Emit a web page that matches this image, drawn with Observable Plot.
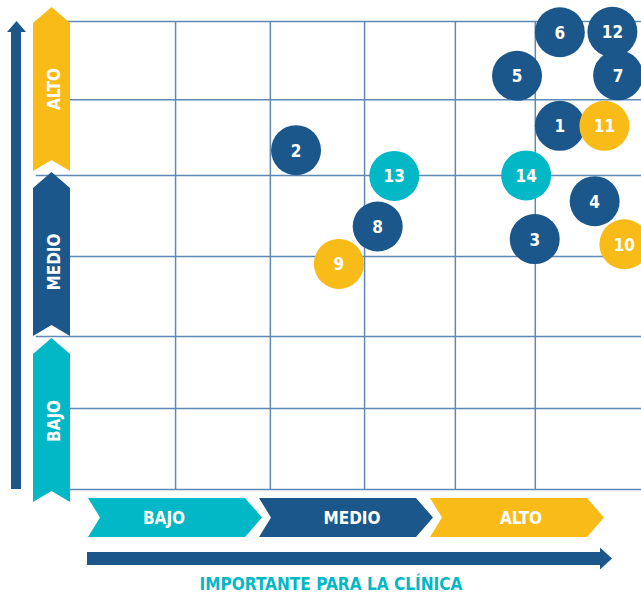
<!DOCTYPE html>
<html>
<head>
<meta charset="utf-8">
<script src="https://cdn.jsdelivr.net/npm/d3@7"></script>
<script src="https://cdn.jsdelivr.net/npm/@observablehq/plot@0.6"></script>
<style>
  html, body { margin: 0; padding: 0; background: #ffffff; }
  #chart svg { display: block; }
</style>
</head>
<body>
<div id="chart"></div>
<script>
// ---- data ----
const levels = ["BAJO", "MEDIO", "ALTO"];
const ids = [1, 2, 3, 4, 5, 6, 7, 8, 9, 10, 11, 12, 13, 14];
// x: importancia para la clínica (0-100), y: eje vertical (0-100)
const xVals = [85.7, 39.5, 81.3, 91.8, 78.2, 85.7, 95.9, 53.8, 47.0, 97.0, 93.5, 94.9, 56.7, 79.8];
const yVals = [77.7, 72.5, 53.5, 61.6, 88.4, 97.7, 88.5, 56.2, 48.2, 52.4, 77.7, 97.8, 67.0, 67.1];
const groups = ["MEDIO", "MEDIO", "MEDIO", "MEDIO", "MEDIO", "MEDIO", "MEDIO", "MEDIO", "ALTO", "ALTO", "ALTO", "MEDIO", "BAJO", "BAJO"];
const xGrid = [18.4, 35.0, 51.5, 67.4, 81.4];
const yGrid = [0, 17.3, 32.7, 49.8, 67.1, 83.3, 100];
const xAxisTitle = "IMPORTANTE PARA LA CLÍNICA";

// ---- styles ----
const levelColors = ["#02b7c6", "#1c578c", "#f8bb17"];
const gridColor = "#5f89b5";
const font = "'DejaVu Sans Condensed', 'DejaVu Sans', sans-serif";

const items = ids.map((id, i) => ({id, x: xVals[i], y: yVals[i], level: groups[i]}));
// draw 12 beneath 7 as in the reference
const order = [1, 2, 3, 4, 5, 6, 12, 7, 8, 9, 10, 11, 13, 14];
const drawItems = order.map(id => items.find(d => d.id === id));

const chart = Plot.plot({
  width: 641,
  height: 597,
  marginLeft: 70,
  marginRight: 0,
  marginTop: 21,
  marginBottom: 108,
  x: {domain: [0, 100], axis: null},
  y: {domain: [0, 100], axis: null},
  color: {domain: levels, range: levelColors},
  style: {fontFamily: font, fontStretch: "condensed", background: "white", overflow: "visible"},
  marks: [
    Plot.ruleY(yGrid, {y: d => d, x1: -6, x2: 100, stroke: gridColor, strokeWidth: 1.5}),
    Plot.ruleX(xGrid, {x: d => d, y1: 0, y2: 100, stroke: gridColor, strokeWidth: 1.5}),
    Plot.dot(drawItems, {x: "x", y: "y", r: 25, fill: "level", stroke: "none"}),
    Plot.text(drawItems, {x: "x", y: "y", text: d => String(d.id), fill: "white",
      fontSize: 17, fontWeight: "bold", dy: 1})
  ]
});

// ---- decorations: chevrons and arrows ----
const svg = d3.select(chart);
const decoTop = svg.append("g").attr("class", "deco-top")
  .attr("font-family", font).attr("font-stretch", "condensed").attr("font-weight", "bold");

// vertical chevrons (pointing up) at the left
const vX0 = 33, vX1 = 70, vPoint = 16, vNotch = 11, vHeight = 164;
const vTops = {BAJO: 338, MEDIO: 172, ALTO: 7};
const vLabelY = {BAJO: 421, MEDIO: 262, ALTO: 89};
levels.forEach((lv, i) => {
  const y0 = vTops[lv], y1 = y0 + vHeight, mx = (vX0 + vX1) / 2;
  decoTop.append("path")
    .attr("d", `M${vX0},${y0 + vPoint}L${mx},${y0}L${vX1},${y0 + vPoint}L${vX1},${y1}L${mx},${y1 - vNotch}L${vX0},${y1}Z`)
    .attr("fill", levelColors[i]);
  decoTop.append("text")
    .attr("transform", `translate(${mx + 8},${vLabelY[lv]}) rotate(-90)`)
    .attr("text-anchor", "middle")
    .attr("fill", "white")
    .attr("font-size", 17)
    .text(lv);
});

// horizontal chevrons (pointing right) at the bottom
const hY0 = 498, hY1 = 537, hPoint = 17, hNotch = 12, hWidth = 174, hStep = 171, hStart = 88;
const hLabelX = [164, 352, 521];
levels.forEach((lv, i) => {
  const x0 = hStart + i * hStep, x1 = x0 + hWidth, my = (hY0 + hY1) / 2;
  decoTop.append("path")
    .attr("d", `M${x0},${hY0}L${x1 - hPoint},${hY0}L${x1},${my}L${x1 - hPoint},${hY1}L${x0},${hY1}L${x0 + hNotch},${my}Z`)
    .attr("fill", levelColors[i]);
  decoTop.append("text")
    .attr("x", hLabelX[i])
    .attr("y", my + 6)
    .attr("text-anchor", "middle")
    .attr("fill", "white")
    .attr("font-size", 17)
    .text(lv);
});

// vertical arrow
decoTop.append("path")
  .attr("d", "M11,489L11,32L7,32L16.5,21L26,32L21,32L21,489Z")
  .attr("fill", levelColors[1]);
// horizontal arrow
decoTop.append("path")
  .attr("d", "M87,552L600,552L600,547.5L612,558.5L600,569.5L600,565L87,565Z")
  .attr("fill", levelColors[1]);

// axis title
decoTop.append("text")
  .attr("x", 331)
  .attr("y", 590)
  .attr("text-anchor", "middle")
  .attr("fill", levelColors[0])
  .attr("font-size", 18)
  .attr("textLength", 263)
  .attr("lengthAdjust", "spacingAndGlyphs")
  .text(xAxisTitle);

document.getElementById("chart").appendChild(chart);
</script>
</body>
</html>
